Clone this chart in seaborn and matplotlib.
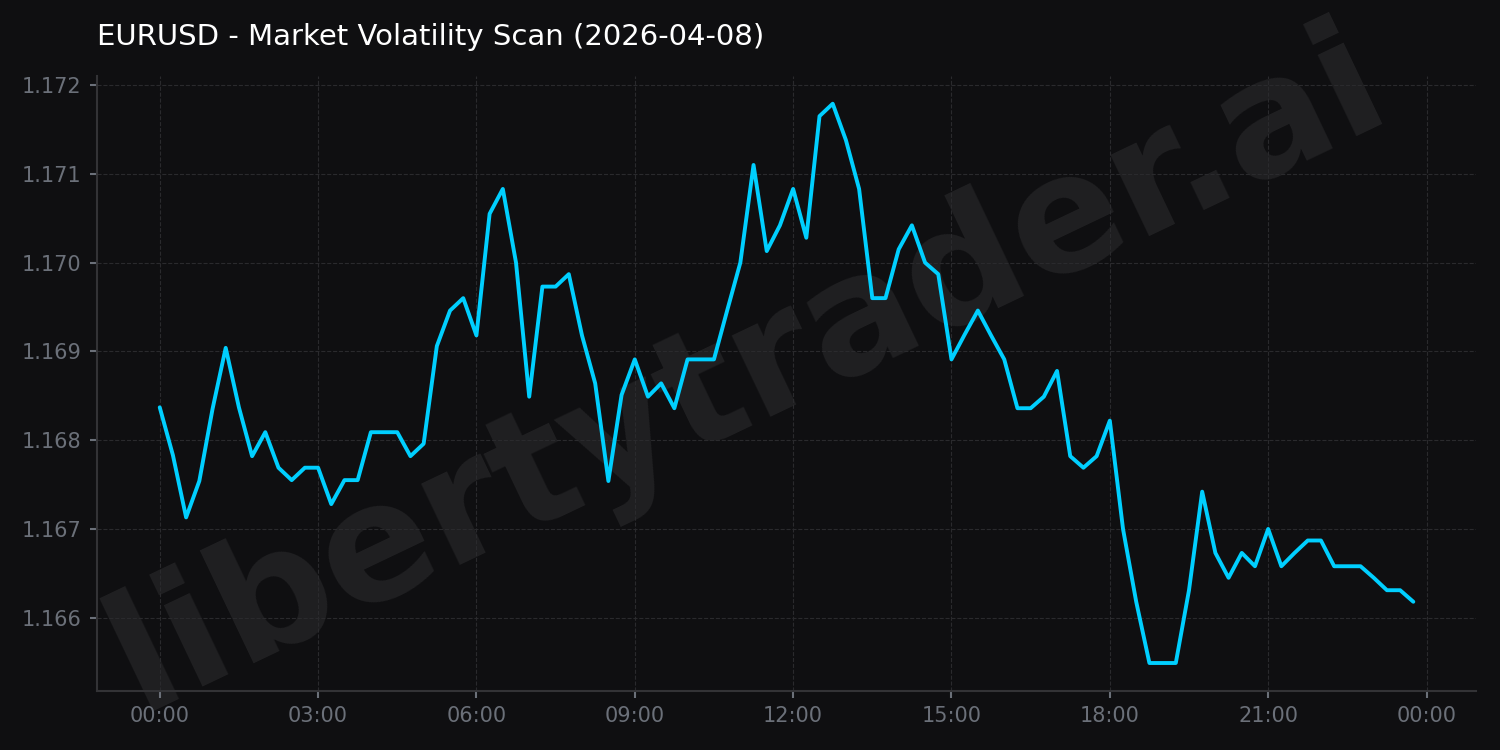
import numpy as np
import pandas as pd
import matplotlib
matplotlib.use("Agg")
import matplotlib.pyplot as plt
import matplotlib.dates as mdates
import seaborn as sns

title = "EURUSD - Market Volatility Scan (2026-04-08)"
watermark = "libertytrader.ai"
start_time = "2026-04-08 00:00"
interval = "15min"

prices = [
    1.16837, 1.16783, 1.16713, 1.16754, 1.16835, 1.16904, 1.16837, 1.16782,
    1.16809, 1.16769, 1.16755, 1.16769, 1.16769, 1.16728, 1.16755, 1.16755,
    1.16809, 1.16809, 1.16809, 1.16782, 1.16796, 1.16906, 1.16946, 1.16960,
    1.16918, 1.17055, 1.17083, 1.17000, 1.16849, 1.16973, 1.16973, 1.16987,
    1.16918, 1.16864, 1.16754, 1.16851, 1.16891, 1.16849, 1.16864, 1.16836,
    1.16891, 1.16891, 1.16891, 1.16946, 1.17000, 1.17110, 1.17013, 1.17042,
    1.17083, 1.17028, 1.17165, 1.17179, 1.17138, 1.17083, 1.16960, 1.16960,
    1.17015, 1.17042, 1.17000, 1.16987, 1.16891, 1.16919, 1.16946, 1.16918,
    1.16891, 1.16836, 1.16836, 1.16849, 1.16878, 1.16782, 1.16769, 1.16782,
    1.16822, 1.16700, 1.16618, 1.16549, 1.16549, 1.16549, 1.16631, 1.16742,
    1.16673, 1.16645, 1.16673, 1.16658, 1.16700, 1.16658, 1.16673, 1.16687,
    1.16687, 1.16658, 1.16658, 1.16658, 1.16645, 1.16631, 1.16631, 1.16618,
]

times = pd.date_range(start_time, periods=len(prices), freq=interval)
df = pd.DataFrame({"time": times, "price": prices})

BG = "#0f0f11"
sns.set_theme(style="dark")
plt.rcParams["font.family"] = ["DejaVu Sans"]

fig, ax = plt.subplots(figsize=(15, 7.5), dpi=100)
fig.patch.set_facecolor(BG)
ax.set_facecolor(BG)
fig.subplots_adjust(left=0.0647, right=0.984, bottom=0.0787, top=0.899)

ax.text(0.498, 0.505, watermark, transform=fig.transFigure, fontsize=118,
        fontweight="bold", color="#202022", rotation=25.5, ha="center",
        va="center", zorder=0.5, family="DejaVu Sans")

sns.lineplot(data=df, x="time", y="price", ax=ax, color="#00cfff",
             linewidth=2.8, zorder=3)

ax.xaxis.set_major_locator(mdates.HourLocator(byhour=range(0, 24, 3)))
ax.xaxis.set_major_formatter(mdates.DateFormatter("%H:%M"))
ax.set_xlabel("")
ax.set_ylabel("")
ax.margins(x=0.05, y=0.05)

ax.grid(True, color="#2a2a2d", linestyle="--", linewidth=0.8, zorder=1)
ax.set_axisbelow(True)
for side in ["top", "right"]:
    ax.spines[side].set_visible(False)
for side in ["left", "bottom"]:
    ax.spines[side].set_color("#333336")
    ax.spines[side].set_linewidth(1.5)

ax.tick_params(axis="both", colors="#6b7079", labelsize=15, length=5,
               width=1.5, bottom=True, left=True, pad=6)
ax.set_title(title, loc="left", color="white", fontsize=21, pad=22,
             family="DejaVu Sans")

fig.savefig("out.png", dpi=100, facecolor=BG)
